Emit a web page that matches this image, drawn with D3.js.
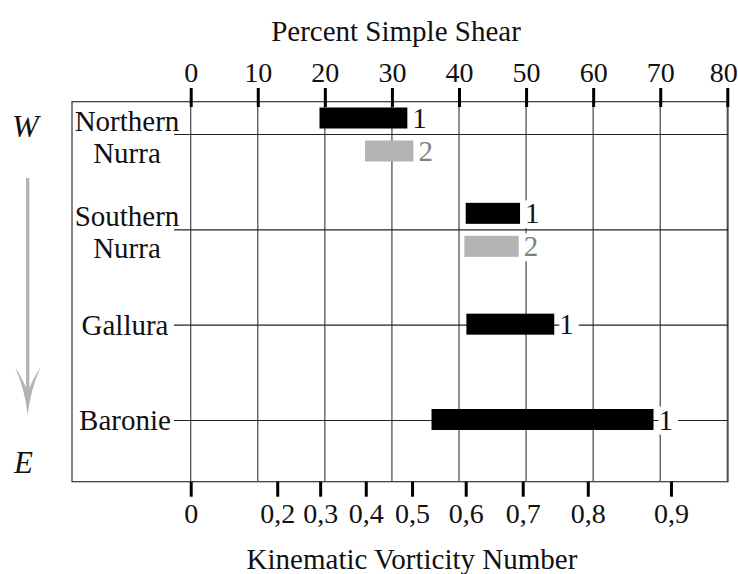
<!DOCTYPE html>
<html>
<head>
<meta charset="utf-8">
<script src="https://cdn.jsdelivr.net/npm/d3@7"></script>
<style>
  html, body { margin: 0; padding: 0; background: #fff; }
  svg { display: block; }
  svg text { font-family: "Liberation Serif", "Times New Roman", "DejaVu Serif", serif; }
</style>
</head>
<body>
<svg id="chart" width="738" height="574"></svg>
<script>
// ---- Data ----
const regions = ["Northern Nurra", "Southern Nurra", "Gallura", "Baronie"];
const regionLabelLines = [["Northern", "Nurra"], ["Southern", "Nurra"], ["Gallura"], ["Baronie"]];
// Series 1 (black) ranges in percent simple shear
const series1Min = [19.2, 41.0, 41.1, 35.9];
const series1Max = [32.3, 49.1, 54.2, 69.0];
// Series 2 (grey) ranges in percent simple shear
const series2Min = [26.0, 40.8, null, null];
const series2Max = [33.2, 48.9, null, null];
const seriesNames = ["1", "2"];
// Top axis ticks (percent simple shear)
const percentTicks = [0, 10, 20, 30, 40, 50, 60, 70, 80];
// Bottom axis ticks (kinematic vorticity number) and their equivalent percent simple shear
const wkTicks = [0, 0.2, 0.3, 0.4, 0.5, 0.6, 0.7, 0.8, 0.9];
const wkPercent = [0, 12.9, 19.3, 26.1, 33.0, 41.0, 49.5, 59.2, 71.6];

// ---- Layout ----
const FONT = '"Liberation Serif", "Times New Roman", "DejaVu Serif", serif';
const svg = d3.select("#chart").attr("font-family", FONT);
const frame = { left: 72, top: 101.7, right: 728, bottom: 481.7 };
const x = d3.scaleLinear().domain([0, 80]).range([190.7, 727.3]);
const xWk = d3.scaleLinear().domain(wkTicks).range(wkPercent.map(p => x(p)));
const y = d3.scalePoint().domain(regions).range([134.5, 420.5]);
const barH = 21, barGap = 6;
const fontSize = 28;

// Frame
svg.append("rect")
  .attr("x", frame.left).attr("y", frame.top)
  .attr("width", frame.right - frame.left).attr("height", frame.bottom - frame.top)
  .attr("fill", "none").attr("stroke", "#333").attr("stroke-width", 1.2);

// Vertical gridlines
svg.append("g").selectAll("line").data(percentTicks).join("line")
  .attr("x1", d => x(d)).attr("x2", d => x(d))
  .attr("y1", frame.top).attr("y2", frame.bottom)
  .attr("stroke", "#444").attr("stroke-width", 1.2);

// Horizontal row lines
svg.append("g").selectAll("line").data(regions).join("line")
  .attr("x1", 174).attr("x2", frame.right)
  .attr("y1", d => y(d)).attr("y2", d => y(d))
  .attr("stroke", "#222").attr("stroke-width", 1.2);

// Top axis
const topAxis = svg.append("g")
  .attr("transform", `translate(0,107)`)
  .call(d3.axisTop(x).tickValues(percentTicks).tickSize(19).tickPadding(6.3).tickSizeOuter(0));
topAxis.attr("font-family", FONT).attr("font-size", fontSize);
topAxis.select(".domain").remove();
topAxis.selectAll(".tick line").attr("stroke", "#000").attr("stroke-width", 3);
topAxis.selectAll(".tick text").attr("font-size", fontSize).attr("fill", "#111")
  .attr("font-family", FONT)
  .attr("dx", (d, i, n) => i === n.length - 1 ? -4 : 0);

// Bottom axis
const botAxis = svg.append("g")
  .attr("transform", `translate(0,${frame.bottom})`)
  .call(d3.axisBottom(xWk).tickValues(wkTicks).tickSize(15).tickPadding(6.4).tickSizeOuter(0)
    .tickFormat(d => d === 0 ? "0" : String(d).replace(".", ",")));
botAxis.attr("font-family", FONT).attr("font-size", fontSize);
botAxis.select(".domain").remove();
botAxis.selectAll(".tick line").attr("stroke", "#000").attr("stroke-width", 3);
botAxis.selectAll(".tick text").attr("font-size", fontSize).attr("fill", "#111")
  .attr("font-family", FONT);

// Axis titles
svg.append("text").attr("x", 396).attr("y", 41).attr("text-anchor", "middle")
  .attr("font-family", FONT).attr("font-size", 29).attr("fill", "#111").text("Percent Simple Shear");
svg.append("text").attr("x", 412).attr("y", 569).attr("text-anchor", "middle")
  .attr("font-family", FONT).attr("font-size", 29).attr("fill", "#111").text("Kinematic Vorticity Number");

// Region labels
const labG = svg.append("g");
regions.forEach((r, i) => {
  const lines = regionLabelLines[i];
  const cy = y(r);
  const t = labG.append("text").attr("text-anchor", "middle")
    .attr("font-family", FONT).attr("font-size", 29).attr("fill", "#111");
  if (lines.length === 2) {
    t.append("tspan").attr("x", 127).attr("y", cy - 4).text(lines[0]);
    t.append("tspan").attr("x", 127).attr("y", cy + 28.5).text(lines[1]);
  } else {
    t.attr("x", 125).attr("y", cy + 9.5).text(lines[0]);
  }
});

// Bars
const bars = [];
regions.forEach((r, i) => {
  const hasTwo = series2Min[i] !== null;
  const cy = y(r);
  if (hasTwo) {
    bars.push({ r, s: 0, x0: series1Min[i], x1: series1Max[i], y0: cy - barGap - barH });
    bars.push({ r, s: 1, x0: series2Min[i], x1: series2Max[i], y0: cy + barGap });
  } else {
    bars.push({ r, s: 0, x0: series1Min[i], x1: series1Max[i], y0: cy - barH / 2 - 1 });
  }
});
const colors = ["#000000", "#b3b3b3"];
const labelColors = ["#111111", "#808080"];

const barG = svg.append("g");
barG.selectAll("rect").data(bars).join("rect")
  .attr("x", d => x(d.x0)).attr("y", d => d.y0)
  .attr("width", d => x(d.x1) - x(d.x0)).attr("height", barH)
  .attr("fill", d => colors[d.s]);

// Bar labels with white backing
const lblG = svg.append("g");
bars.forEach(d => {
  const g = lblG.append("g");
  const bg = g.append("rect").attr("fill", "#fff");
  const t = g.append("text")
    .attr("x", x(d.x1) + 5).attr("y", d.y0 + barH / 2 + 10)
    .attr("font-family", FONT).attr("font-size", 29).attr("fill", labelColors[d.s]).text(seriesNames[d.s]);
  const bb = t.node().getBBox();
  bg.attr("x", bb.x).attr("y", bb.y + 3).attr("width", bb.width + 5).attr("height", bb.height - 4);
});

// W -> E arrow
svg.append("text").attr("x", 12).attr("y", 136.5).attr("font-size", 32)
  .attr("font-family", FONT).attr("font-style", "italic").attr("fill", "#111").text("W");
svg.append("text").attr("x", 14).attr("y", 473).attr("font-size", 31)
  .attr("font-family", FONT).attr("font-style", "italic").attr("fill", "#111").text("E");
svg.append("line").attr("x1", 27.7).attr("x2", 27.7).attr("y1", 178).attr("y2", 392)
  .attr("stroke", "#b3b3b3").attr("stroke-width", 3.3);
svg.append("path")
  .attr("d", "M15,367 Q25,390 27.7,415 Q30.4,390 40.7,367 Q32,380 27.7,392 Q23.4,380 15,367 Z")
  .attr("fill", "#b3b3b3");
</script>
</body>
</html>
